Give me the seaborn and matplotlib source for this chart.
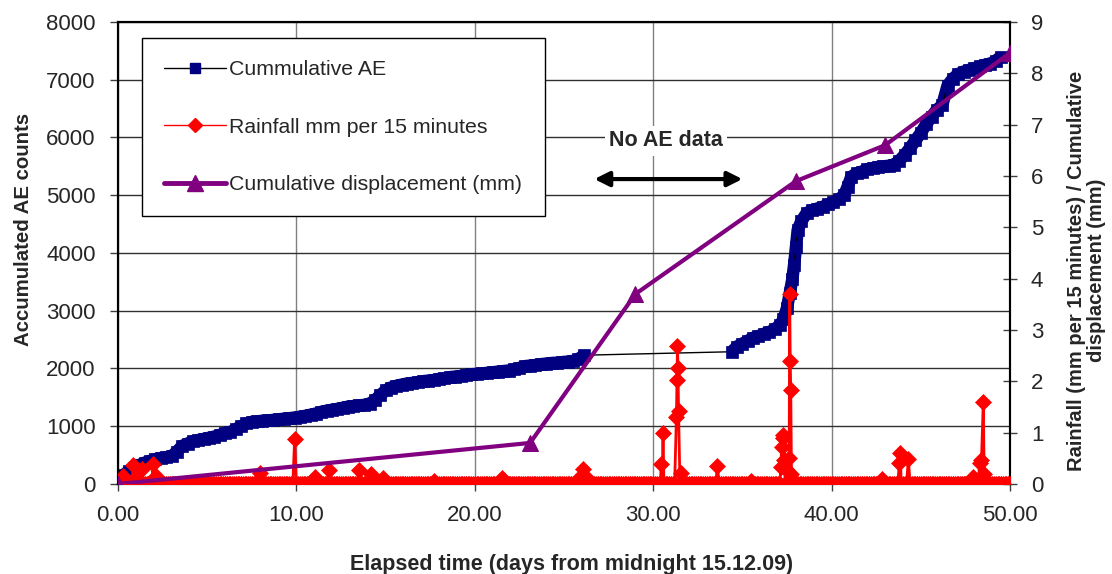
import numpy as np
import pandas as pd
import matplotlib
matplotlib.use('Agg')
import matplotlib.pyplot as plt
import seaborn as sns
from matplotlib.lines import Line2D

# cumulative AE counts (left axis)
ae_day = [0.0, 0.3, 0.6, 0.9, 1.2, 1.5, 1.8, 2.1, 2.4, 2.7, 3.0, 3.3, 3.6, 3.9, 4.2, 4.5, 4.8, 5.1,
          5.4, 5.7, 6.0, 6.3, 6.6, 6.9, 7.2, 7.5, 7.8, 8.1, 8.4, 8.7, 9.0, 9.3, 9.6, 9.9, 10.2, 10.5,
          10.8, 11.1, 11.4, 11.7, 12.0, 12.3, 12.6, 12.9, 13.2, 13.5, 13.8, 14.1, 14.4, 14.7, 15.0,
          15.3, 15.6, 15.9, 16.2, 16.5, 16.8, 17.1, 17.4, 17.7, 18.0, 18.3, 18.6, 18.9, 19.2, 19.5,
          19.8, 20.1, 20.4, 20.7, 21.0, 21.3, 21.6, 21.9, 22.2, 22.5, 22.8, 23.1, 23.4, 23.7, 24.0,
          24.3, 24.6, 24.9, 25.2, 25.5, 25.8, 26.1,
          34.4, 34.7, 35.0, 35.3, 35.6, 35.9, 36.2, 36.5, 36.8, 37.1, 37.3, 37.5, 37.65, 37.8, 37.9,
          38.0, 38.1, 38.3, 38.6, 38.9, 39.2, 39.5, 39.8, 40.1, 40.4, 40.7, 40.9, 41.1, 41.4, 41.7,
          42.0, 42.3, 42.6, 42.9, 43.2, 43.5, 43.8, 44.1, 44.4, 44.7, 45.0, 45.3, 45.6, 45.9, 46.2,
          46.5, 46.8, 47.1, 47.4, 47.7, 48.0, 48.3, 48.6, 48.9, 49.2, 49.5]
ae_counts = [90, 150, 230, 280, 330, 370, 400, 430, 450, 460, 480, 560, 660, 700, 740, 760, 780, 800,
             820, 850, 880, 900, 950, 1000, 1050, 1075, 1085, 1095, 1100, 1110, 1120, 1130, 1140, 1150,
             1165, 1180, 1200, 1220, 1250, 1270, 1285, 1300, 1320, 1340, 1350, 1360, 1370, 1390, 1450,
             1540, 1620, 1670, 1700, 1720, 1740, 1750, 1760, 1780, 1790, 1800, 1820, 1830, 1850, 1860,
             1870, 1885, 1900, 1905, 1915, 1925, 1935, 1945, 1955, 1965, 1985, 2010, 2040, 2050, 2060,
             2075, 2085, 2095, 2100, 2110, 2120, 2130, 2160, 2230,
             2290, 2380, 2430, 2480, 2530, 2560, 2600, 2630, 2680, 2750, 2850, 3050, 3300, 3550, 3800,
             4100, 4400, 4550, 4690, 4740, 4770, 4800, 4840, 4880, 4930, 5000, 5150, 5320, 5380, 5410,
             5450, 5470, 5490, 5500, 5510, 5530, 5600, 5700, 5820, 5950, 6080, 6230, 6360, 6480, 6560,
             6900, 7020, 7100, 7140, 7170, 7200, 7230, 7260, 7280, 7330, 7400]
AE_GAP_START = 26.1  # no AE data between these days
AE_GAP_END = 34.4

# rainfall readings above zero (right axis), all other 15-min readings are 0 mm
rain_day = [0.3, 0.84, 1.0, 1.35, 1.96, 2.12, 7.98, 9.9, 11.05, 11.8, 13.5, 14.2, 14.85, 17.7, 21.5,
            25.95, 26.05, 26.15, 30.45, 30.55, 31.3, 31.33, 31.36, 31.39, 31.42, 31.55, 33.6, 35.5,
            37.15, 37.2, 37.25, 37.3, 37.35, 37.45, 37.62, 37.65, 37.68, 37.71, 37.75, 42.8, 43.8,
            43.85, 44.3, 47.9, 48.3, 48.4, 48.5, 48.55]
rain_mm = [0.15, 0.37, 0.14, 0.30, 0.39, 0.15, 0.22, 0.87, 0.14, 0.27, 0.27, 0.19, 0.12, 0.05, 0.12,
           0.15, 0.29, 0.15, 0.39, 1.0, 1.3, 2.03, 2.69, 2.26, 1.42, 0.21, 0.35, 0.05,
           0.33, 0.73, 0.95, 0.9, 0.47, 0.3, 0.5, 3.7, 2.4, 1.83, 0.2, 0.1, 0.41,
           0.6, 0.49, 0.13, 0.4, 0.47, 1.6, 0.2]

# cumulative displacement (right axis)
disp_day = [0.0, 23.1, 29.0, 38.0, 43.0, 50.0]
disp_mm = [0.0, 0.8, 3.7, 5.9, 6.6, 8.4]

NAVY = '#000080'
RED = '#FF0000'
PURPLE = '#800080'

sns.set_theme(style='white')
plt.rcParams['font.family'] = ['Liberation Sans', 'DejaVu Sans']

# zero readings of the logger between the rain events
dry_day = np.round(np.arange(0, 50.001, 0.1), 2)
dry_day = [d for d in dry_day if min(abs(d - r) for r in rain_day) > 0.02]
rain = pd.DataFrame({'day': list(dry_day) + rain_day,
                     'mm': [0.0] * len(dry_day) + rain_mm}).sort_values('day')
ae = pd.DataFrame({'day': ae_day, 'counts': ae_counts})
disp = pd.DataFrame({'day': disp_day, 'mm': disp_mm})

fig, ax = plt.subplots(figsize=(11.12, 5.74), dpi=100)
fig.subplots_adjust(left=0.1061, right=0.9083, bottom=0.1568, top=0.9617)
ax2 = ax.twinx()

# the dense logger markers merge into a solid band in the original
for part in (ae[ae.day <= AE_GAP_START], ae[ae.day >= AE_GAP_END]):
    sns.lineplot(data=part, x='day', y='counts', ax=ax, estimator=None, sort=False,
                 color=NAVY, linewidth=9, solid_capstyle='butt')
sns.lineplot(data=ae, x='day', y='counts', ax=ax, estimator=None, sort=False,
             color='black', linewidth=1, marker='s', markersize=9,
             markerfacecolor=NAVY, markeredgecolor=NAVY, markeredgewidth=0.5)
sns.lineplot(data=rain, x='day', y='mm', ax=ax2, estimator=None, sort=False,
             color=RED, linewidth=2, marker='D', markersize=8.5,
             markerfacecolor=RED, markeredgecolor=RED, markeredgewidth=0.5, zorder=3)
sns.lineplot(data=disp, x='day', y='mm', ax=ax2, estimator=None, sort=False,
             color=PURPLE, linewidth=3, marker='^', markersize=11,
             markerfacecolor=PURPLE, markeredgecolor=PURPLE, zorder=4)

ax.set_xlim(0, 50)
ax.set_ylim(0, 8000)
ax2.set_ylim(0, 9)
ax.set_xticks([0, 10, 20, 30, 40, 50])
ax.set_xticklabels([f'{v:.2f}' for v in [0, 10, 20, 30, 40, 50]])
ax.set_yticks(range(0, 8001, 1000))
ax2.set_yticks(range(0, 10))

ax.set_axisbelow(True)
ax.yaxis.grid(True, color='#303030', linewidth=1)
ax.xaxis.grid(True, color='#808080', linewidth=1)

for a in (ax, ax2):
    for s in a.spines.values():
        s.set_color('black')
        s.set_linewidth(1.5)
ax.tick_params(axis='y', which='major', direction='out', length=6, width=1, color='#404040',
               labelsize=16, pad=10, left=True)
ax.tick_params(axis='x', which='major', direction='out', length=5, width=1, color='#404040',
               labelsize=16, pad=10, bottom=True)
ax2.tick_params(axis='y', which='major', direction='inout', length=10, width=1, color='#404040',
                labelsize=16, pad=10, right=True)

ax.set_xlabel('Elapsed time (days from midnight 15.12.09)', fontsize=15.5, fontweight='bold')
ax.set_ylabel('Accumulated AE counts', fontsize=14.7, fontweight='bold')
ax2.set_ylabel('Rainfall (mm per 15 minutes) / Cumulative\ndisplacement (mm)',
               fontsize=14.5, fontweight='bold', linespacing=1.05)
ax.xaxis.set_label_coords(0.509, -0.152)
ax.yaxis.set_label_coords(-0.095, 0.55)
ax2.yaxis.set_label_coords(1.064, 0.462)

# gap annotation
ax.annotate('', xy=(26.7, 5280), xytext=(35.0, 5280),
            arrowprops=dict(arrowstyle='<|-|>', color='black', lw=3, mutation_scale=22,
                            shrinkA=0, shrinkB=0))
ax.text(30.7, 5940, 'No AE data', ha='center', va='center', fontsize=15.5, fontweight='bold',
        bbox=dict(facecolor='white', edgecolor='none', pad=3))

handles = [
    Line2D([], [], color='black', linewidth=1, marker='s', markersize=7,
           markerfacecolor=NAVY, markeredgecolor=NAVY),
    Line2D([], [], color=RED, linewidth=1, marker='D', markersize=7,
           markerfacecolor=RED, markeredgecolor=RED),
    Line2D([], [], color=PURPLE, linewidth=3.5, marker='^', markersize=11,
           markerfacecolor=PURPLE, markeredgecolor=PURPLE),
]
labels = ['Cummulative AE', 'Rainfall mm per 15 minutes', 'Cumulative displacement (mm)']
leg = ax2.legend(handles, labels, loc='upper left', bbox_to_anchor=(0.027, 0.965),
                 fontsize=15.3, frameon=True, fancybox=False, framealpha=1, edgecolor='black',
                 handlelength=2.9, handletextpad=0.15, labelspacing=1.8, borderpad=1.05,
                 borderaxespad=0)
leg.get_frame().set_linewidth(1)
if ax.get_legend():
    ax.get_legend().remove()

fig.savefig('out.png', dpi=100)
